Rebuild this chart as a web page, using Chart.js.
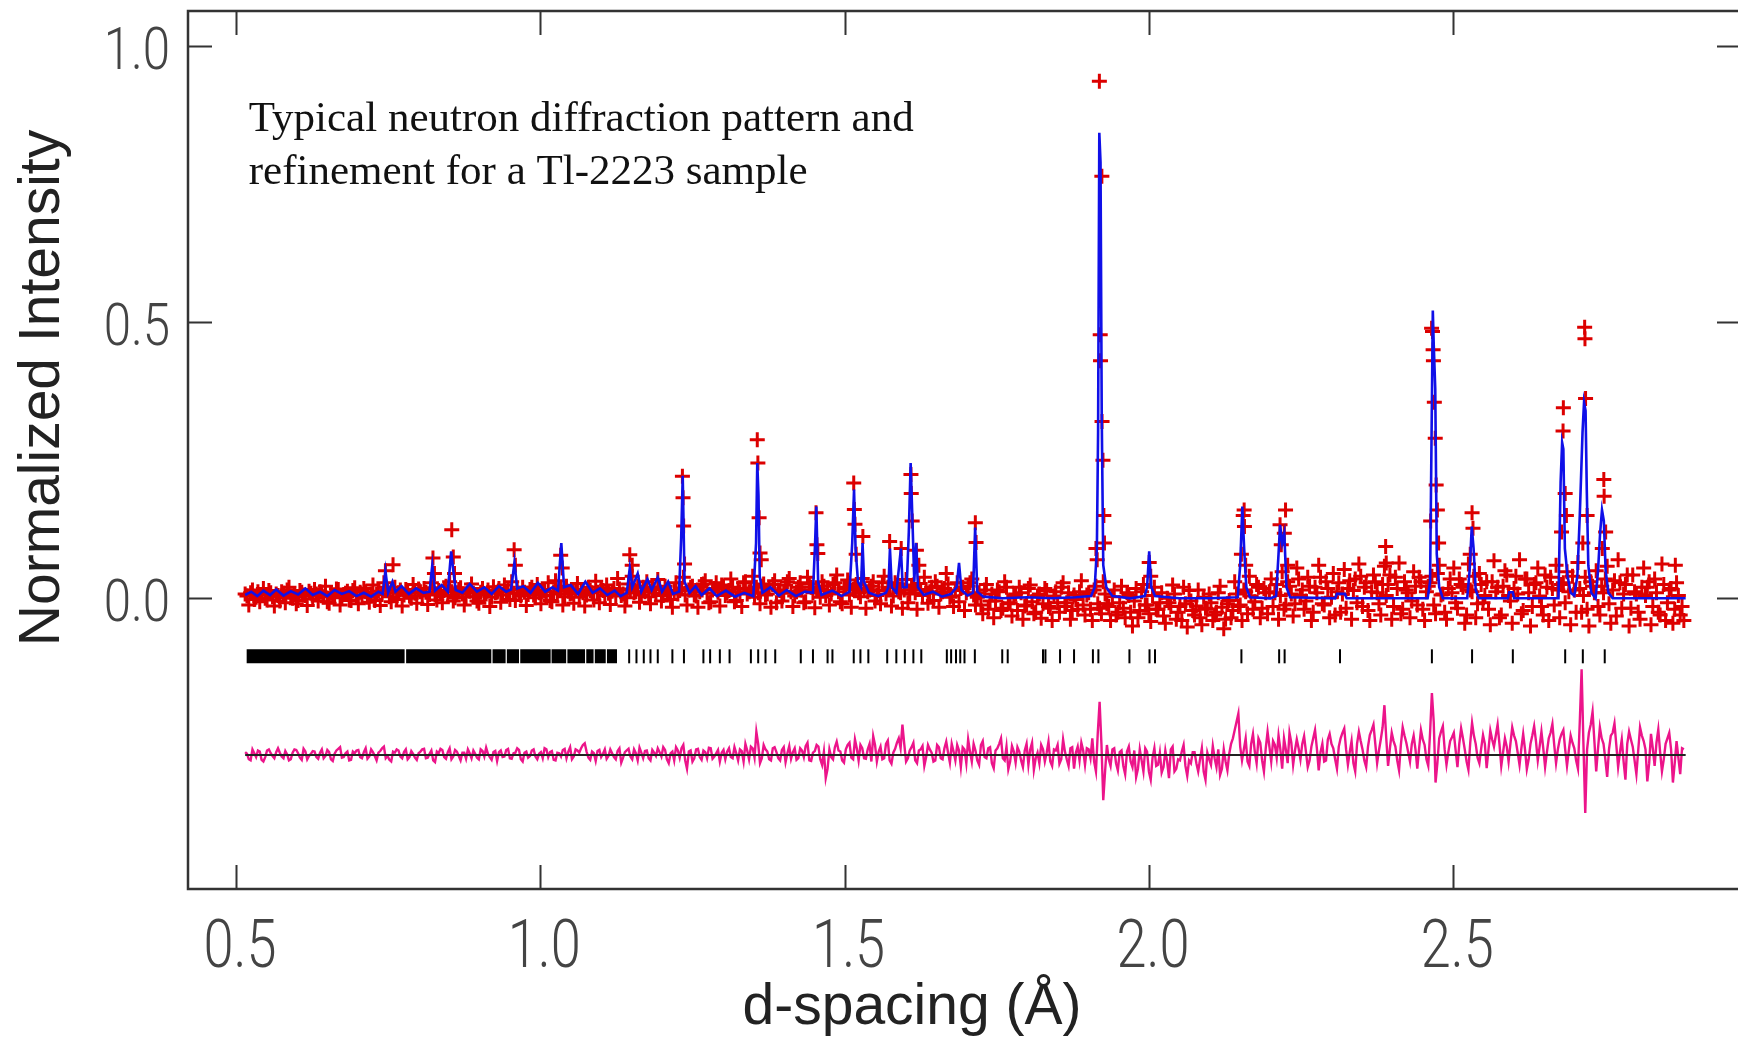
<!DOCTYPE html>
<html>
<head>
<meta charset="utf-8">
<script src="https://cdn.jsdelivr.net/npm/chart.js@4.4.1/dist/chart.umd.min.js"></script>
<style>
  html, body { margin: 0; padding: 0; background: #fff; overflow: hidden; }
  #wrap { width: 1738px; height: 1041px; overflow: hidden; }
  canvas { display: block; }
</style>
</head>
<body>
<div id="wrap"><canvas id="pattern" width="1760" height="1041"></canvas></div>
<script>
/* Neutron diffraction pattern of Tl-2223: observed, calculated, difference, reflections */

// measurement grid for the observed data and the difference curve (d, in Å);
// one value on every grid point, one more half way between neighbours
const gridStart = 0.515;
const gridStep = 0.006;

// observed intensity on the grid points, normalized intensity x1000
const obsMilli = [
  8, -12, 15, 2, -6, 18, -3, 10, -14, 5,
  12, -8, 20, 0, -10, 14, 6, -13, 9, 16,
  -5, 11, 22, -9, 3, 17, -12, 7, 13, -4,
  19, -10, 5, 12, -7, 24, 8, -13, 28, 15,
  -6, 20, 10, -14, 16, 4, 25, -9, 12, 18,
  -11, 28, 6, 14, -8, 22, 30, -5, 10, 19,
  -12, 15, 26, 3, -9, 18, 8, -15, 21, 11,
  -7, 24, 14, 30, -4, 9, 20, -13, 16, 6,
  25, -10, 13, 28, -6, 32, 18, -12, 22, 8,
  -9, 27, 15, -14, 20, 10, 31, -8, 14, 24,
  -11, 18, 36, 5, -14, 26, 40, 12, -7, 20,
  30, -10, 16, 34, -5, 22, 9, -16, 28, 14,
  38, -12, 20, 6, -16, 25, 32, -8, 15, 28,
  -14, 22, 10, 35, -6, 18, -15, 30, 12, 40,
  20, -10, 26, 8, -16, 32, 15, -5, 24, 36,
  -15, 12, 28, -8, 38, 20, -17, 14, 30, 5,
  -12, 25, 42, -6, 18, 33, -16, 22, 10, 36,
  -18, 15, 30, 5, -10, 40, 20, -14, 28, 12,
  -18, 34, 8, 24, -20, 16, 38, -9, 20, 30,
  -16, 12, 45, 2, -15, 28, 18, -22, 22, 35,
  -12, 10, -28, 25, -5, -35, 15, -22, 30, -10,
  -32, 8, 20, -38, -12, 24, -28, 4, -36, 18,
  -15, -40, 12, -25, 28, -8, -38, 6, -20, 32,
  -30, 10, -40, 22, -18, 30, -10, -40, 15, -25,
  22, -35, 5, -50, 18, -22, 25, -12, -42, 20,
  -20, 10, -45, -8, 24, -38, -15, 20, -52, -5,
  -30, 15, -48, -18, 8, -40, -25, 22, -55, -10,
  -35, 30, -15, -40, 12, 40, -20, 25, -35, 18,
  -28, 35, 10, -38, 48, -12, 22, -32, 55, 5,
  -20, 38, -40, 20, 60, -10, 30, -35, 45, 12,
  -25, 52, 18, -38, 35, 62, -15, 28, -40, 42,
  10, -30, 58, 25, -38, 38, 64, -20, 15, -35,
  48, -12, 30, -40, 22, 40, -28, 60, 8, -38,
  35, 55, -18, 25, -45, 62, 12, -35, 45, -8,
  30, -48, 68, 20, -30, 50, 5, -45, 40, 70,
  -22, 35, -50, 25, 55, -15, 42, -40, 18, 60,
  -35, 28, 48, -48, 15, 65, -25, 38, -50, 22,
  50, -30, 10, 58, -45, 32, 70, -18, 25, -50,
  42, 8, -38, 55, 20, -48, 35, -25, 62, -40,
  15, -45, 28, -30, -40
];

// observed intensity half way between grid points, x1000
const obsMidMilli = [
  4, 10, -2, 12, 6, 0, 14, 3, 8, -5,
  9, 15, 2, 7, -4, 11, 5, 13, -1, 8,
  12, 3, -6, 10, 6, 16, 1, 9, -3, 14,
  5, 11, 18, 2, 8, -4, 13, 7, 20, 3,
  10, -2, 15, 6, 12, 0, 9, 17, 4, 11,
  7, 19, -3, 10, 14, 5, 12, 1, 16, 8,
  3, 13, 9, -5, 11, 6, 15, 2, 10, 18,
  6, 12, -2, 9, 16, 4, 11, 7, 20, 1,
  10, 15, 5, -4, 12, 8, 18, 3, 13, 9,
  16, 2, 10, 6, 14, -3, 11, 19, 5, 9,
  13, 4, 17, 8, 1, 15, 10, 22, 6, 12,
  3, 16, 9, 20, 5, 12, -2, 14, 8, 18,
  6, 15, 22, 4, 12, 26, 9, -6, 18, 11,
  24, 5, 14, 20, -4, 12, 28, 8, 16, 2,
  10, 22, 6, 18, 25, -8, 14, 9, 30, 12,
  4, 20, 15, -6, 26, 10, 18, 2, 22, 14,
  8, 28, 12, -10, 20, 6, 16, 25, 3, 18,
  12, 22, -5, 14, 28, 8, 19, 4, 24, 10,
  15, -8, 20, 10, 27, 5, 16, 12, -4, 22,
  8, 18, 26, 4, 14, -6, 20, 10, 28, 6,
  2, -12, 15, -20, 8, -5, 12, -18, 20, -8,
  5, -22, 10, -14, 18, -6, -25, 8, -10, 14,
  -18, 4, -8, 20, -15, 10, -22, -2, 12, -12,
  6, -20, 15, -10, -28, 8, -15, 3, -30, -8,
  -18, 10, -25, -5, -35, 12, -12, -28, 5, -20,
  -8, -32, 0, -15, 8, -25, -40, -10, 14, -22,
  -14, -35, 2, -20, -8, -30, 10, -16, -38, -4,
  -22, 8, -12, 15, -28, 4, -6, 20, -18, 10,
  12, -15, 25, 5, -20, 30, 8, -10, 35, 15,
  -5, 22, -25, 10, 38, -12, 18, 2, -30, 28,
  8, -18, 32, 14, -8, 40, 20, -22, 12, 30,
  -10, 25, 5, 42, -15, 18, -28, 30, 10, -5,
  22, 38, -20, 12, 28, -12, 45, 6, -25, 18,
  10, -8, 35, 20, -30, 15, 40, -10, 25, 5,
  -20, 30, 12, -35, 22, 42, -5, 18, 8, -28,
  35, 10, -15, 28, 4, -30, 20, 38, -12, 15,
  25, -8, 12, 40, -25, 18, 5, -20, 30, 10,
  -15, 22, 35, -10, 15, -32, 28, 8, 42, -18,
  12, -25, 20, 5, 30, -15, 10, -30, 25, -8,
  18, -20, 5, -15
];

// observed points on the Bragg peaks [d, intensity]
const peakObs = [
  [0.7455, 0.05], [0.758, 0.061], [0.8236, 0.073], [0.826, 0.045], [0.8545, 0.124],
  [0.857, 0.075], [0.859, 0.045], [0.957, 0.088], [0.959, 0.06], [1.0335, 0.078],
  [1.036, 0.055], [1.147, 0.079], [1.151, 0.06], [1.2335, 0.221], [1.2345, 0.182],
  [1.2355, 0.131], [1.237, 0.062], [1.3565, 0.287], [1.3575, 0.245], [1.3595, 0.146],
  [1.361, 0.082], [1.363, 0.07], [1.453, 0.155], [1.4545, 0.097], [1.456, 0.081],
  [1.515, 0.209], [1.516, 0.161], [1.517, 0.134], [1.519, 0.08], [1.53, 0.112],
  [1.574, 0.103], [1.593, 0.09], [1.609, 0.224], [1.6095, 0.19], [1.611, 0.14],
  [1.618, 0.087], [1.622, 0.06], [1.7148, 0.137], [1.716, 0.101], [1.913, 0.09],
  [1.9186, 0.936], [1.9227, 0.764], [1.92, 0.477], [1.9205, 0.43], [1.923, 0.32],
  [1.9245, 0.25], [1.926, 0.15], [1.927, 0.1], [1.915, 0.07], [2.0005, 0.065],
  [2.003, 0.04], [2.1565, 0.16], [2.155, 0.15], [2.157, 0.13], [2.152, 0.08],
  [2.159, 0.06], [2.2245, 0.16], [2.2155, 0.133], [2.2225, 0.118], [2.2175, 0.097],
  [2.228, 0.06], [2.389, 0.094], [2.39, 0.064], [2.4645, 0.489], [2.466, 0.483],
  [2.467, 0.45], [2.4675, 0.43], [2.469, 0.355], [2.4705, 0.29], [2.472, 0.205],
  [2.474, 0.16], [2.463, 0.14], [2.476, 0.1], [2.531, 0.155], [2.5325, 0.127],
  [2.528, 0.08], [2.681, 0.345], [2.6805, 0.303], [2.684, 0.19], [2.686, 0.15],
  [2.678, 0.12], [2.716, 0.491], [2.7165, 0.47], [2.7175, 0.362], [2.72, 0.15],
  [2.713, 0.1], [2.7475, 0.215], [2.748, 0.185], [2.7505, 0.12], [2.745, 0.09],
  [2.865, 0.06]
];

// calculated profile [d, intensity]
const calcProfile = [
  [0.515, 0.006], [0.525, 0.012], [0.535, 0.004], [0.545, 0.014], [0.556, 0.006], [0.566, 0.016], [0.578, 0.005], [0.59, 0.013],
  [0.602, 0.007], [0.614, 0.018], [0.626, 0.006], [0.638, 0.012], [0.65, 0.004], [0.662, 0.015], [0.674, 0.008], [0.686, 0.013],
  [0.698, 0.004], [0.71, 0.01], [0.722, 0.003], [0.734, 0.012], [0.741, 0.008], [0.7455, 0.05], [0.75, 0.01], [0.757, 0.03],
  [0.762, 0.012], [0.772, 0.022], [0.784, 0.008], [0.796, 0.018], [0.808, 0.01], [0.818, 0.012], [0.8225, 0.06], [0.827, 0.014],
  [0.838, 0.024], [0.848, 0.012], [0.8535, 0.085], [0.857, 0.05], [0.861, 0.015], [0.872, 0.01], [0.884, 0.026], [0.896, 0.012],
  [0.908, 0.02], [0.92, 0.008], [0.932, 0.022], [0.944, 0.012], [0.952, 0.016], [0.9575, 0.065], [0.962, 0.018], [0.972, 0.022],
  [0.984, 0.01], [0.996, 0.028], [1.008, 0.012], [1.02, 0.02], [1.029, 0.014], [1.0345, 0.1], [1.039, 0.02], [1.05, 0.024],
  [1.062, 0.008], [1.074, 0.03], [1.086, 0.01], [1.098, 0.018], [1.11, 0.006], [1.122, 0.014], [1.132, 0.004], [1.142, 0.01],
  [1.147, 0.055], [1.151, 0.02], [1.16, 0.045], [1.166, 0.012], [1.176, 0.035], [1.183, 0.015], [1.193, 0.038], [1.2, 0.012],
  [1.21, 0.03], [1.218, 0.008], [1.228, 0.012], [1.2315, 0.11], [1.234, 0.222], [1.237, 0.03], [1.245, 0.01], [1.255, 0.022],
  [1.265, 0.006], [1.278, 0.018], [1.29, 0.004], [1.305, 0.014], [1.32, 0.003], [1.335, 0.01], [1.35, 0.004], [1.3545, 0.1],
  [1.3565, 0.245], [1.3585, 0.186], [1.3605, 0.04], [1.365, 0.01], [1.378, 0.02], [1.392, 0.005], [1.405, 0.015], [1.42, 0.004],
  [1.435, 0.012], [1.448, 0.01], [1.4515, 0.1], [1.4535, 0.166], [1.4565, 0.03], [1.462, 0.006], [1.48, 0.014], [1.495, 0.004],
  [1.508, 0.012], [1.5125, 0.1], [1.5155, 0.197], [1.518, 0.09], [1.522, 0.03], [1.527, 0.02], [1.5295, 0.1], [1.532, 0.03],
  [1.54, 0.01], [1.555, 0.004], [1.568, 0.01], [1.572, 0.02], [1.5745, 0.09], [1.5775, 0.02], [1.585, 0.01], [1.5925, 0.09],
  [1.5955, 0.02], [1.602, 0.02], [1.6055, 0.12], [1.6085, 0.245], [1.6115, 0.14], [1.6145, 0.03], [1.6175, 0.1], [1.6205, 0.02],
  [1.63, 0.006], [1.645, 0.012], [1.66, 0.003], [1.675, 0.008], [1.684, 0.02], [1.688, 0.064], [1.692, 0.015], [1.702, 0.005],
  [1.711, 0.01], [1.7145, 0.128], [1.718, 0.012], [1.728, 0.003], [1.76, 0], [1.8, 0.002], [1.84, 0], [1.88, 0.002],
  [1.905, 0.004], [1.911, 0.02], [1.9145, 0.09], [1.9165, 0.3], [1.9185, 0.843], [1.9205, 0.79], [1.9225, 0.33], [1.925, 0.06],
  [1.93, 0.02], [1.94, 0.004], [1.97, 0], [1.993, 0.004], [1.997, 0.02], [2.0005, 0.085], [2.004, 0.02], [2.01, 0.004],
  [2.05, 0], [2.1, 0], [2.146, 0.002], [2.15, 0.06], [2.1535, 0.166], [2.1565, 0.09], [2.16, 0.02], [2.166, 0.002],
  [2.2, 0], [2.209, 0.004], [2.213, 0.08], [2.2155, 0.133], [2.219, 0.1], [2.2225, 0.118], [2.226, 0.02], [2.232, 0.002],
  [2.306, 0], [2.309, 0.008], [2.322, 0.008], [2.325, 0], [2.458, 0], [2.462, 0.03], [2.4645, 0.3], [2.4665, 0.521],
  [2.468, 0.46], [2.4705, 0.38], [2.473, 0.08], [2.477, 0.02], [2.483, 0], [2.523, 0], [2.527, 0.05], [2.5305, 0.13],
  [2.5335, 0.09], [2.537, 0.015], [2.542, 0], [2.59, 0], [2.592, 0.011], [2.598, 0.011], [2.6, 0], [2.673, 0],
  [2.6765, 0.21], [2.679, 0.282], [2.681, 0.27], [2.6835, 0.09], [2.688, 0.04], [2.693, 0.01], [2.699, 0.005], [2.704, 0.04],
  [2.708, 0.15], [2.7125, 0.3], [2.715, 0.355], [2.7175, 0.34], [2.7195, 0.196], [2.722, 0.06], [2.727, 0.01], [2.734, 0],
  [2.738, 0.05], [2.7415, 0.12], [2.7445, 0.16], [2.7475, 0.14], [2.7505, 0.05], [2.755, 0.01], [2.762, 0], [2.882, 0]
];

// observed minus calculated on the grid points, x1000, drawn shifted by diffOffset
const diffMilli = [
  5, -8, 10, -4, 6, -12, 8, 3, -6, 12,
  -3, 7, -10, 4, 9, -5, 11, -8, 2, 6,
  -7, 10, -2, 5, -11, 8, 14, -4, 6, -9,
  3, 9, -6, 12, -3, 5, -10, 7, 15, -2,
  -12, 4, 8, -6, 10, -4, 2, -9, 6, 11,
  -5, 8, -13, 3, 9, -7, 12, -3, 6, -10,
  4, 10, -6, 2, -8, 7, 13, -4, 5, -11,
  8, -3, 11, -7, 4, 9, -12, 6, -2, 10,
  -8, 5, 12, -4, 7, -10, 3, 9, -6, 14,
  -3, 8, 12, 21, -5, 6, -11, 9, 2, -7,
  10, -4, 7, -14, 5, 11, -8, 3, 13, -6,
  8, -10, 4, 12, -3, 9, -15, 6, 14, -5,
  18, -25, 8, -6, 11, -9, 5, 13, -7, 3,
  -12, 9, 6, -4, 14, -10, 7, 20, -8, 12,
  42, -15, 18, 6, -10, 14, -6, 9, -13, 16,
  5, -9, 12, -4, 22, -11, 7, 15, -18, -42,
  10, -8, 24, 6, -14, 18, -5, 28, -10, 12,
  -7, 20, 34, -12, 15, -6, 26, -16, 11, 30,
  55, -12, 8, 22, -15, 10, -20, 18, 4, -10,
  14, -8, 24, -14, 6, 18, -22, 10, 28, -12,
  8, -18, 25, -6, 14, -24, 12, 30, -10, -26,
  16, -14, 6, -22, 20, 10, -27, 4, 18, -12,
  24, -20, 8, -16, 28, -8, 12, -25, 15, 22,
  -18, 10, 30, -30, 96, -82, 18, -20, 12, -28,
  8, -35, 15, -22, -40, 10, -30, 6, -45, 12,
  -18, -32, 8, -42, 15, -25, -10, 18, -38, -15,
  5, -30, 12, -45, -8, 16, -22, -36, 10, -28,
  20, 45, 75, -10, 30, -20, 38, -15, 22, -30,
  42, -12, 18, 35, -25, 10, 40, -18, 28, -8,
  34, -22, 15, 45, -28, 20, -10, 38, 12, -25,
  30, 48, -18, 25, -30, 42, 10, -22, 36, 55,
  -15, 28, 90, -20, 40, 15, -28, 50, 22, -12,
  35, -25, 45, 18, -20, 112, -50, 30, 52, -18,
  25, 40, -22, 48, 10, -27, 58, 20, -15, 36,
  -24, 44, 15, 55, -20, 30, -12, 50, 25, -18,
  38, -26, 20, 52, -10, 42, -22, 30, 56, -15,
  28, 45, -20, 35, 12, -25, 155, -105, 40, 78,
  -30, 50, 20, -40, 35, 57, -22, 28, -45, 42,
  15, -35, 50, 25, -48, 38, -20, 46, -30, 20,
  40, -50, 25, -35, 10
];

// difference half way between grid points, x1000
const diffMidMilli = [
  2, -10, 3, 8, -9, -4, 10, -2, 5, 4,
  -6, 1, -8, 10, 3, -9, 6, -2, 7, -4,
  4, -6, 9, -8, 2, 11, -5, 3, -10, 6,
  8, -4, 5, -7, 10, -2, 4, 12, -6, -9,
  6, 10, -3, 5, -8, 7, -5, 3, 10, -6,
  2, -10, 6, 11, -4, 5, -8, 9, -2, 4,
  -7, 3, 8, -5, 10, -3, 2, -9, 7, 5,
  -4, 9, -6, 3, 12, -8, 4, -5, 8, -3,
  2, -6, 10, 5, -9, 4, -3, 11, 6, -8,
  10, 4, 18, 6, -9, 3, 7, -4, 10, -2,
  3, -8, 12, -5, 8, -3, 10, -10, 4, 7,
  -6, 9, -2, 5, 14, -8, 3, -10, 8, 12,
  -10, 6, -12, 10, -4, 8, -6, 12, -3, 9,
  4, -8, 12, -6, 3, 10, -12, 8, 15, -5,
  20, -6, 10, -8, 12, 5, -10, 14, 3, -7,
  12, -6, 8, 16, -10, 4, 18, -8, 6, -25,
  -4, 14, 8, -10, 10, 22, -8, 12, 18, -6,
  10, -12, 18, 6, -8, 20, -10, 4, 22, 12,
  20, -6, 14, -10, 8, 16, -4, 10, -12, 18,
  -6, 12, 4, 20, -10, 8, 14, -15, 6, 20,
  -10, 18, -4, 12, -15, 8, 20, -6, 15, -12,
  6, 14, -10, 8, -18, 22, -6, -15, 10, 4,
  -12, 10, 18, -8, 6, -20, 14, 4, -10, 8,
  12, -6, -12, 40, 20, -30, -8, 10, -15, 5,
  -20, 6, -12, 8, -25, -10, 12, -30, -5, -20,
  4, -22, -12, 10, -30, -8, 6, -20, -10, 5,
  -15, -8, -30, 4, -18, -6, 10, -25, -12, 2,
  30, 60, 15, 10, -12, 20, 6, 30, -10, 12,
  15, 25, -5, 10, 30, -15, 22, 8, 12, 20,
  6, -10, 30, 12, 5, -12, 28, 20, -8, 15,
  40, 10, 5, -15, 20, 25, -10, 15, 45, 20,
  8, 50, 30, 12, 25, -10, 18, 35, 5, 20,
  10, 12, 28, -8, 40, 60, -15, 42, 10, 5,
  32, 8, 20, 30, -12, 22, 35, -5, 12, 20,
  10, 28, 35, 20, 5, 15, 20, 35, 4, 12,
  10, -8, 35, 25, 15, 12, 5, 40, 18, 10,
  38, 10, 8, 22, -10, 60, 20, 10, 55, 25,
  12, 30, -8, 10, 40, 18, 5, -12, 20, 28,
  -10, 8, 35, 10, -15, 12, 22, 5, -8, 30,
  10, -15, -5, 12
];
const diffOffset = -0.2835;

// reflection markers: ranges where the ticks merge into a solid bar, then single ticks
const reflBandStart = [0.5175, 0.7795, 0.9215, 0.945, 0.967, 1.0185, 1.0445, 1.0755, 1.0895, 1.1095];
const reflBandEnd   = [0.7770, 0.9195, 0.9430, 0.965, 1.017, 1.0425, 1.0735, 1.0875, 1.1075, 1.1260];
const reflD = [
  1.146, 1.158, 1.170, 1.181, 1.193, 1.217, 1.236, 1.268, 1.279, 1.295, 1.311, 1.346, 1.358, 1.370,
  1.386, 1.428, 1.448, 1.472, 1.480, 1.515, 1.526, 1.539, 1.570, 1.585, 1.599, 1.613, 1.626, 1.668,
  1.675, 1.683, 1.690, 1.697, 1.714, 1.759, 1.768, 1.826, 1.830, 1.854, 1.877, 1.908, 1.917, 1.968,
  2.001, 2.010, 2.152, 2.214, 2.223, 2.314, 2.465, 2.531, 2.598, 2.684, 2.713, 2.749
];
const reflLevel = -0.105;

const xTicks = [0.5, 1.0, 1.5, 2.0, 2.5];
const yTicks = [0.0, 0.5, 1.0];

const RED = '#dc0000';
const BLUE = '#1010e8';
const PINK = '#ec148a';
const TICKFONT = 'Roboto, "Liberation Sans", sans-serif';

// interleave grid-point and mid-point values
function onGrid(main, mid, scale, shift) {
  const pts = [];
  main.forEach((v, i) => {
    pts.push({ x: +(gridStart + i * gridStep).toFixed(4), y: shift + v * scale });
    if (i < mid.length) pts.push({ x: +(gridStart + (i + 0.5) * gridStep).toFixed(4), y: shift + mid[i] * scale });
  });
  return pts;
}

const obsPoints = onGrid(obsMilli, obsMidMilli, 0.001, 0)
  .concat(peakObs.map(p => ({ x: p[0], y: p[1] })));
const calcPoints = calcProfile.map(p => ({ x: p[0], y: p[1] }));
const diffPoints = onGrid(diffMilli, diffMidMilli, 0.001, diffOffset);
const diffZero = [{ x: gridStart, y: diffOffset }, { x: 2.882, y: diffOffset }];

const bandPoints = [];
reflBandStart.forEach((s, i) => {
  bandPoints.push({ x: s, y: reflLevel }, { x: reflBandEnd[i], y: reflLevel }, { x: reflBandEnd[i], y: null });
});
const reflPoints = reflD.map(d => ({ x: d, y: reflLevel }));

const framePlugin = {
  id: 'frame',
  afterDatasetsDraw(chart) {
    const { ctx, chartArea: a } = chart;
    const x = chart.scales.x, y = chart.scales.y;
    ctx.save();
    ctx.strokeStyle = '#333';
    ctx.lineWidth = 2.5;
    ctx.strokeRect(a.left, a.top, a.right - a.left, a.bottom - a.top);
    ctx.lineWidth = 2;
    ctx.beginPath();
    xTicks.forEach(v => {
      const px = Math.round(x.getPixelForValue(v)) + 0.5;
      ctx.moveTo(px, a.top); ctx.lineTo(px, a.top + 24);
      ctx.moveTo(px, a.bottom); ctx.lineTo(px, a.bottom - 24);
    });
    yTicks.forEach(v => {
      const py = Math.round(y.getPixelForValue(v)) + 0.5;
      ctx.moveTo(a.left, py); ctx.lineTo(a.left + 24, py);
      ctx.moveTo(a.right, py); ctx.lineTo(a.right - 24, py);
    });
    ctx.stroke();
    ctx.restore();
  },
  afterDraw(chart) {
    const { ctx, chartArea: a } = chart;
    const x = chart.scales.x, y = chart.scales.y;

    // tick labels, condensed
    ctx.save();
    ctx.fillStyle = '#444';
    ctx.textBaseline = 'alphabetic';
    ctx.font = '300 66px ' + TICKFONT;
    ctx.textAlign = 'center';
    xTicks.forEach(v => {
      ctx.save();
      ctx.translate(x.getPixelForValue(v) + 4, a.bottom + 78);
      ctx.scale(0.82, 1);
      ctx.fillText(v.toFixed(1), 0, 0);
      ctx.restore();
    });
    ctx.font = '300 60px ' + TICKFONT;
    ctx.textAlign = 'right';
    yTicks.forEach(v => {
      ctx.save();
      ctx.translate(a.left - 18, y.getPixelForValue(v) + 23);
      ctx.scale(0.82, 1);
      ctx.fillText(v.toFixed(1), 0, 0);
      ctx.restore();
    });
    ctx.restore();

    // axis titles
    ctx.save();
    ctx.fillStyle = '#222';
    ctx.font = '57px "Liberation Sans", Arial, sans-serif';
    ctx.textBaseline = 'alphabetic';
    ctx.textAlign = 'center';
    ctx.fillText('d-spacing (Å)', 912, 1024);
    ctx.translate(59, 388);
    ctx.rotate(-Math.PI / 2);
    ctx.fillText('Normalized Intensity', 0, 0);
    ctx.restore();

    // caption inside the plot
    ctx.save();
    ctx.fillStyle = '#111';
    ctx.font = '43px "Liberation Serif", "Times New Roman", serif';
    ctx.textAlign = 'left';
    ctx.textBaseline = 'alphabetic';
    const tx = x.getPixelForValue(0.521);
    const ty = y.getPixelForValue(0.847);
    ctx.fillText('Typical neutron diffraction pattern and', tx, ty);
    ctx.fillText('refinement for a Tl-2223 sample', tx, ty + 53);
    ctx.restore();
  }
};

function flatPadding(s) { s.paddingTop = 0; s.paddingBottom = 0; s.paddingLeft = 0; s.paddingRight = 0; }

new Chart(document.getElementById('pattern'), {
  type: 'scatter',
  data: {
    datasets: [
      { label: 'Calculated', data: calcPoints, showLine: true, borderColor: BLUE, borderWidth: 2.6,
        pointRadius: 0, order: 0 },
      { label: 'Observed', data: obsPoints, pointStyle: 'cross', pointRadius: 7.5, borderColor: RED,
        backgroundColor: RED, pointBorderWidth: 3, order: 1 },
      { label: 'Zero', data: diffZero, showLine: true, borderColor: '#222', borderWidth: 2,
        pointRadius: 0, order: 2 },
      { label: 'Difference', data: diffPoints, showLine: true, borderColor: PINK, borderWidth: 2.4,
        pointRadius: 0, order: 3 },
      { label: 'Reflections (merged)', data: bandPoints, showLine: true, spanGaps: false, borderColor: '#000',
        borderWidth: 14, borderCapStyle: 'butt', pointRadius: 0, order: 4 },
      { label: 'Reflections', data: reflPoints, pointStyle: 'line', rotation: 90, pointRadius: 7,
        borderColor: '#000', pointBorderWidth: 2, order: 5 }
    ]
  },
  options: {
    responsive: false,
    animation: false,
    events: [],
    layout: { padding: { top: 11, right: 19, left: 0, bottom: 0 } },
    plugins: { legend: { display: false }, tooltip: { enabled: false } },
    scales: {
      x: {
        type: 'linear', min: 0.4211, max: 2.9729,
        grid: { display: false, drawTicks: false }, border: { display: false },
        ticks: { display: false },
        afterBuildTicks: s => { s.ticks = xTicks.map(v => ({ value: v })); },
        afterFit: s => { flatPadding(s); s.height = 152; }
      },
      y: {
        type: 'linear', min: -0.5263, max: 1.0634,
        grid: { display: false, drawTicks: false }, border: { display: false },
        ticks: { display: false },
        afterBuildTicks: s => { s.ticks = yTicks.map(v => ({ value: v })); },
        afterFit: s => { flatPadding(s); s.width = 188; }
      }
    }
  },
  plugins: [framePlugin]
});
</script>
</body>
</html>
